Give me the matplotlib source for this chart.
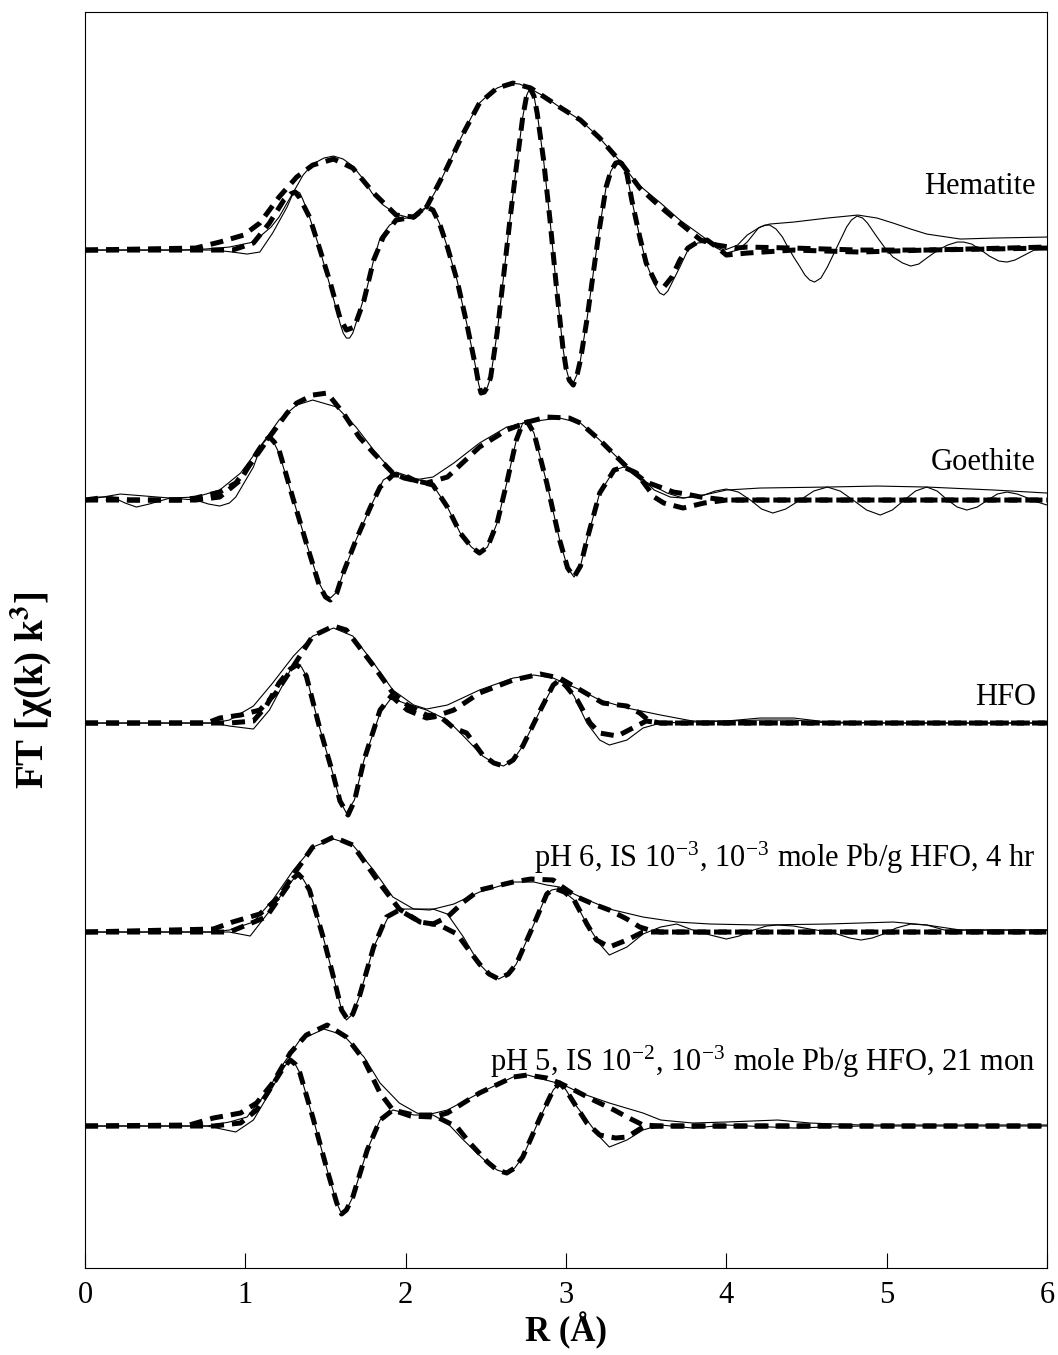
import matplotlib
matplotlib.use("Agg")
import matplotlib.pyplot as plt
import numpy as np

plt.rcParams['font.family'] = ['Liberation Serif', 'DejaVu Serif']
plt.rcParams['mathtext.fontset'] = 'stix'

# curves: (R in Angstrom, FT in arbitrary units above the spectrum baseline)
# Hematite
hem_mag = [(0, 0), (0.6, 0), (0.75, 1), (0.9, 3), (1.05, 8), (1.16, 23), (1.21, 33), (1.26, 47), (1.30, 58),
           (1.36, 75), (1.42, 86), (1.49, 92), (1.55, 94), (1.61, 91), (1.67, 84), (1.73, 72), (1.79, 57),
           (1.86, 45), (1.94, 36), (2.03, 32), (2.08, 35), (2.13, 43), (2.19, 60), (2.25, 80), (2.30, 98),
           (2.36, 117), (2.41, 133), (2.46, 147), (2.52, 156), (2.57, 162), (2.65, 167), (2.71, 166),
           (2.77, 162), (2.86, 154), (2.96, 143), (3.09, 130), (3.21, 112), (3.33, 90), (3.44, 67),
           (3.59, 47), (3.71, 30), (3.84, 15), (3.94, 3), (3.99, 0), (4.07, 5), (4.13, 15), (4.21, 23),
           (4.27, 26), (4.42, 28), (4.63, 32), (4.82, 35), (4.94, 32), (5.04, 27), (5.15, 21), (5.25, 16),
           (5.46, 11), (5.67, 12), (6.0, 13)]
hem_im = [(0, 0), (0.8, 0), (0.92, -2), (1.01, -4), (1.09, -2), (1.17, 17), (1.26, 43), (1.29, 54),
          (1.32, 59), (1.34, 57), (1.36, 50), (1.40, 33), (1.46, 3), (1.53, -37), (1.59, -73),
          (1.61, -83), (1.63, -88), (1.65, -88), (1.67, -83), (1.71, -63), (1.76, -37), (1.80, -10),
          (1.84, 12), (1.90, 25), (1.96, 31), (2.05, 33), (2.10, 40), (2.13, 43), (2.17, 40), (2.21, 27),
          (2.26, 3), (2.32, -30), (2.38, -73), (2.44, -120), (2.455, -134), (2.47, -143), (2.49, -142),
          (2.51, -137), (2.53, -127), (2.57, -83), (2.61, -27), (2.65, 30), (2.69, 83), (2.73, 133),
          (2.755, 155), (2.775, 162), (2.80, 154), (2.82, 137), (2.86, 90), (2.90, 30), (2.94, -37),
          (2.98, -97), (3.00, -118), (3.02, -130), (3.045, -133), (3.07, -124), (3.09, -110),
          (3.13, -70), (3.17, -23), (3.21, 23), (3.25, 63), (3.28, 79), (3.31, 87), (3.335, 88),
          (3.36, 84), (3.38, 76), (3.41, 50), (3.46, 13), (3.50, -13), (3.56, -37), (3.585, -43),
          (3.61, -45), (3.635, -41), (3.66, -33), (3.71, -17), (3.76, 0), (3.82, 7), (3.88, 8),
          (3.94, 2), (4.00, -3), (4.07, 0), (4.13, 8), (4.17, 16), (4.20, 22), (4.24, 25), (4.27, 25),
          (4.31, 21), (4.35, 13), (4.38, 4), (4.42, -7), (4.46, -17), (4.49, -25), (4.52, -30),
          (4.55, -32), (4.59, -28), (4.63, -17), (4.66, -7), (4.69, 3), (4.72, 13), (4.75, 23),
          (4.78, 30), (4.815, 34), (4.85, 32), (4.88, 27), (4.94, 13), (4.99, 2), (5.04, -7),
          (5.10, -13), (5.15, -16), (5.20, -14), (5.25, -8), (5.32, 0), (5.38, 5), (5.44, 8), (5.48, 8),
          (5.53, 6), (5.58, 1), (5.64, -6), (5.70, -11), (5.75, -12), (5.80, -10), (5.86, -5),
          (5.92, 0), (6.0, 3)]
hem_mag_fit = [(0, 0), (0.69, 2), (0.84, 8), (0.99, 15), (1.09, 27), (1.21, 53), (1.32, 73), (1.42, 85),
               (1.55, 91), (1.67, 82), (1.80, 57), (1.94, 35), (2.05, 33), (2.13, 43), (2.25, 80),
               (2.36, 117), (2.46, 147), (2.57, 162), (2.67, 167), (2.78, 162), (2.96, 143), (3.09, 130),
               (3.21, 112), (3.33, 90), (3.46, 62), (3.59, 43), (3.71, 27), (3.84, 10), (3.94, 5),
               (4.06, 2), (4.13, 3), (4.42, 2), (4.83, 0), (5.25, 0), (6.0, 3)]
hem_im_fit = [(0, 0), (0.92, 0), (1.05, 7), (1.15, 27), (1.24, 50), (1.28, 56), (1.31, 58), (1.34, 52),
              (1.40, 33), (1.46, 3), (1.53, -33), (1.59, -68), (1.63, -80), (1.68, -77), (1.74, -50),
              (1.80, -10), (1.86, 13), (1.94, 30), (2.05, 33), (2.10, 40), (2.13, 43), (2.17, 40),
              (2.21, 27), (2.26, 3), (2.32, -30), (2.38, -73), (2.44, -120), (2.455, -134), (2.47, -143),
              (2.49, -142), (2.51, -137), (2.53, -127), (2.57, -83), (2.61, -27), (2.65, 30), (2.69, 83),
              (2.73, 133), (2.755, 155), (2.775, 162), (2.80, 154), (2.82, 137), (2.86, 90), (2.90, 30),
              (2.94, -37), (2.98, -97), (3.00, -118), (3.02, -130), (3.045, -135), (3.07, -124),
              (3.09, -110), (3.13, -70), (3.17, -23), (3.21, 23), (3.25, 63), (3.28, 79), (3.31, 87),
              (3.335, 88), (3.36, 84), (3.38, 76), (3.41, 50), (3.46, 13), (3.50, -13), (3.56, -33),
              (3.61, -37), (3.66, -27), (3.71, -10), (3.76, 2), (3.82, 8), (3.88, 10), (3.94, 3),
              (4.0, -5), (4.13, -3), (4.42, 0), (4.83, -2), (5.25, 0), (6.0, 2)]

# Goethite
goe_mag = [(0, 0), (0.22, 6), (0.53, 2), (0.69, 3), (0.84, 10), (0.97, 27), (1.09, 53), (1.21, 80),
           (1.32, 95), (1.42, 100), (1.57, 93), (1.69, 73), (1.80, 50), (1.92, 28), (2.05, 20), (2.17, 23),
           (2.30, 37), (2.46, 57), (2.63, 73), (2.76, 78), (2.96, 82), (3.09, 77), (3.21, 60), (3.38, 33),
           (3.50, 18), (3.63, 7), (3.73, 2), (3.86, 5), (4.0, 10), (4.21, 12), (4.63, 13), (4.94, 14),
           (5.25, 13), (5.67, 10), (6.0, 7)]
goe_im = [(0, 0), (0.08, 3), (0.17, 3), (0.25, -3), (0.32, -7), (0.40, -4), (0.53, 2), (0.69, 0),
          (0.77, -4), (0.84, -6), (0.90, -3), (0.94, 3), (1.05, 33), (1.10, 55), (1.14, 62), (1.17, 60),
          (1.21, 47), (1.30, 0), (1.38, -43), (1.46, -83), (1.50, -95), (1.53, -98), (1.57, -92),
          (1.61, -73), (1.69, -40), (1.78, -7), (1.86, 20), (1.94, 28), (2.05, 22), (2.17, 15),
          (2.26, -7), (2.34, -33), (2.41, -47), (2.46, -53), (2.51, -47), (2.57, -23), (2.63, 17),
          (2.69, 60), (2.73, 77), (2.76, 78), (2.80, 67), (2.88, 17), (2.96, -40), (3.01, -68),
          (3.05, -77), (3.09, -66), (3.13, -40), (3.21, 7), (3.30, 30), (3.36, 33), (3.44, 27),
          (3.55, 10), (3.65, 3), (3.73, 2), (3.86, 5), (3.93, 9), (4.0, 11), (4.075, 8), (4.15, 0),
          (4.22, -9), (4.29, -13), (4.37, -9), (4.46, 0), (4.545, 9), (4.63, 13), (4.71, 9), (4.79, 0),
          (4.875, -10), (4.96, -15), (5.035, -10), (5.11, 0), (5.18, 9), (5.25, 13), (5.315, 9),
          (5.38, 0), (5.44, -7), (5.50, -10), (5.565, -7), (5.63, 0), (5.69, 6), (5.75, 8), (5.815, 6),
          (5.88, 2), (5.94, -2), (6.0, -5)]
goe_mag_fit = [(0, 0), (0.09, 2), (0.28, 0), (0.59, 0), (0.69, 2), (0.84, 8), (0.94, 17), (1.05, 40),
               (1.15, 63), (1.26, 87), (1.32, 97), (1.42, 105), (1.51, 107), (1.61, 87), (1.71, 63),
               (1.80, 47), (1.92, 27), (1.99, 22), (2.13, 17), (2.26, 23), (2.46, 53), (2.63, 70),
               (2.76, 78), (2.88, 83), (3.02, 82), (3.09, 77), (3.21, 60), (3.38, 33), (3.50, 18),
               (3.67, 8), (3.75, 6), (3.84, 3), (4.0, 0), (6.0, 0)]
goe_im_fit = [(0, 0), (0.69, 0), (0.84, 3), (0.97, 20), (1.07, 47), (1.12, 59), (1.15, 63), (1.18, 58),
              (1.21, 50), (1.30, 0), (1.38, -43), (1.46, -85), (1.50, -97), (1.53, -100), (1.57, -93),
              (1.61, -73), (1.69, -40), (1.78, -7), (1.84, 13), (1.92, 25), (1.99, 25), (2.05, 20),
              (2.17, 15), (2.26, -7), (2.34, -33), (2.41, -47), (2.46, -53), (2.51, -47), (2.57, -23),
              (2.63, 17), (2.69, 60), (2.73, 77), (2.76, 78), (2.80, 67), (2.88, 17), (2.96, -40),
              (3.01, -68), (3.05, -77), (3.09, -66), (3.13, -40), (3.21, 7), (3.30, 30), (3.36, 33),
              (3.44, 27), (3.55, 3), (3.61, -3), (3.73, -8), (3.86, -3), (4.0, 0), (6.0, 0)]

# HFO
hfo_mag = [(0, 0), (0.80, 0), (0.90, 3), (1.05, 17), (1.17, 40), (1.30, 67), (1.42, 87), (1.55, 95),
           (1.67, 87), (1.80, 60), (1.92, 33), (2.05, 18), (2.13, 14), (2.26, 18), (2.46, 33), (2.67, 45),
           (2.80, 48), (2.92, 45), (3.09, 33), (3.21, 23), (3.38, 15), (3.59, 8), (3.79, 2), (4.0, 2),
           (4.21, 5), (4.42, 5), (4.63, 1), (5.04, 0), (6.0, 0)]
hfo_im = [(0, 0), (0.80, 0), (0.90, -3), (1.05, -6), (1.15, 13), (1.24, 40), (1.28, 53), (1.32, 60),
          (1.35, 56), (1.38, 47), (1.46, -3), (1.55, -53), (1.59, -78), (1.63, -90), (1.68, -77),
          (1.74, -37), (1.84, 10), (1.91, 25), (1.99, 20), (2.13, 13), (2.26, 3), (2.36, -13),
          (2.48, -33), (2.55, -40), (2.61, -43), (2.67, -37), (2.73, -23), (2.84, 13), (2.92, 37),
          (2.96, 42), (3.00, 38), (3.05, 27), (3.13, 0), (3.21, -17), (3.27, -22), (3.38, -17),
          (3.48, -5), (3.59, 0), (4.21, 3), (4.42, 3), (4.63, 0), (6.0, 0)]
hfo_mag_fit = [(0, 0), (0.76, 0), (0.84, 5), (0.97, 8), (1.09, 13), (1.19, 30), (1.30, 57), (1.42, 87),
               (1.55, 97), (1.63, 93), (1.80, 57), (1.92, 30), (2.01, 18), (2.13, 8), (2.19, 7),
               (2.30, 13), (2.46, 30), (2.67, 43), (2.84, 49), (2.96, 45), (3.09, 33), (3.23, 20),
               (3.38, 17), (3.46, 10), (3.52, 2), (3.59, 0), (6.0, 0)]
hfo_im_fit = [(0, 0), (0.90, 0), (1.05, 2), (1.13, 17), (1.21, 40), (1.28, 54), (1.32, 58), (1.35, 55),
              (1.38, 47), (1.46, -3), (1.55, -53), (1.59, -78), (1.64, -92), (1.68, -78), (1.74, -37),
              (1.84, 13), (1.91, 27), (2.01, 13), (2.13, 5), (2.21, 7), (2.30, -5), (2.38, -10),
              (2.48, -32), (2.55, -40), (2.61, -43), (2.67, -37), (2.73, -23), (2.84, 13), (2.92, 38),
              (2.96, 43), (3.00, 37), (3.07, 23), (3.15, 0), (3.21, -10), (3.32, -13), (3.44, -3),
              (3.50, 2), (3.59, 0), (6.0, 0)]

# pH 6, IS 1e-3, 1e-3 mole Pb/g HFO, 4 hr
ph6_mag = [(0, 0), (0.80, 0), (0.90, 2), (1.05, 10), (1.17, 32), (1.30, 62), (1.42, 85), (1.55, 93),
           (1.67, 87), (1.80, 62), (1.92, 35), (2.05, 23), (2.15, 22), (2.30, 28), (2.46, 40), (2.67, 50),
           (2.80, 50), (2.88, 47), (2.96, 45), (3.09, 35), (3.27, 23), (3.48, 15), (3.69, 10), (3.90, 8),
           (4.21, 7), (4.63, 8), (5.04, 10), (5.25, 7), (5.46, 2), (6.0, 2)]
ph6_im = [(0, 0), (0.90, 0), (1.03, -4), (1.17, 25), (1.26, 45), (1.30, 53), (1.33, 57), (1.36, 53),
          (1.40, 42), (1.49, -8), (1.57, -58), (1.60, -78), (1.63, -88), (1.67, -82), (1.71, -65),
          (1.80, -15), (1.90, 18), (1.96, 23), (2.05, 23), (2.17, 23), (2.26, 18), (2.36, -5),
          (2.46, -32), (2.52, -42), (2.58, -47), (2.64, -42), (2.69, -32), (2.80, 8), (2.88, 38),
          (2.91, 42), (2.94, 43), (2.99, 40), (3.05, 32), (3.13, 8), (3.21, -12), (3.27, -23),
          (3.38, -15), (3.48, -2), (3.59, 5), (3.69, 8), (3.79, 2), (3.90, -3), (4.0, -7), (4.08, -4),
          (4.17, 2), (4.25, 6), (4.32, 7), (4.42, 6), (4.52, 3), (4.60, 1), (4.69, -2), (4.77, -6),
          (4.84, -8), (4.91, -6), (4.98, -2), (5.06, 4), (5.15, 8), (5.25, 7), (5.36, 2), (6.0, 2)]
ph6_mag_fit = [(0, 0), (0.80, 3), (0.92, 10), (1.09, 18), (1.21, 35), (1.32, 62), (1.42, 85), (1.55, 95),
               (1.67, 87), (1.84, 48), (1.96, 23), (2.09, 10), (2.17, 8), (2.26, 15), (2.36, 30),
               (2.46, 42), (2.67, 50), (2.78, 53), (2.92, 52), (2.96, 47), (3.07, 35), (3.17, 28),
               (3.27, 22), (3.38, 13), (3.46, 5), (3.52, 2), (3.59, 0), (6.0, 0)]
ph6_im_fit = [(0, 0), (0.90, 0), (1.13, 15), (1.26, 45), (1.30, 54), (1.33, 58), (1.36, 53), (1.40, 42),
              (1.49, -8), (1.57, -58), (1.60, -78), (1.64, -88), (1.67, -82), (1.71, -65), (1.80, -15),
              (1.88, 15), (1.96, 22), (2.09, 10), (2.21, 7), (2.32, -2), (2.38, -15), (2.46, -32),
              (2.52, -42), (2.58, -47), (2.64, -42), (2.69, -32), (2.80, 8), (2.88, 38), (2.91, 42),
              (2.94, 43), (2.99, 40), (3.05, 32), (3.13, 8), (3.19, -8), (3.27, -15), (3.38, -8),
              (3.48, 0), (6.0, 0)]

# pH 5, IS 1e-2, 1e-3 mole Pb/g HFO, 21 mon
ph5_mag = [(0, 0), (0.76, 0), (0.90, 4), (1.01, 9), (1.13, 33), (1.24, 63), (1.34, 86), (1.49, 97),
           (1.61, 91), (1.74, 69), (1.84, 43), (1.96, 23), (2.07, 13), (2.13, 11), (2.26, 16), (2.46, 33),
           (2.67, 49), (2.76, 51), (2.92, 44), (2.96, 43), (3.09, 33), (3.27, 23), (3.48, 13), (3.59, 6),
           (3.79, 3), (4.0, 4), (4.32, 6), (4.52, 3), (4.84, 1), (6.0, 1)]
ph5_im = [(0, 0), (0.76, 0), (0.94, -6), (1.05, 6), (1.15, 33), (1.24, 59), (1.28, 66), (1.31, 62),
          (1.34, 53), (1.42, 9), (1.51, -44), (1.57, -77), (1.60, -88), (1.63, -84), (1.67, -71),
          (1.76, -24), (1.84, 6), (1.92, 16), (2.05, 11), (2.17, 11), (2.26, 3), (2.36, -14),
          (2.51, -37), (2.57, -44), (2.63, -47), (2.68, -42), (2.73, -31), (2.84, 9), (2.92, 36),
          (2.96, 43), (3.00, 36), (3.05, 23), (3.13, 6), (3.21, -11), (3.27, -21), (3.38, -14),
          (3.48, -4), (3.59, 1), (3.79, -2), (4.0, 1), (4.42, -2), (4.84, 0), (6.0, 0)]
ph5_mag_fit = [(0, 0), (0.65, 1), (0.80, 8), (0.97, 13), (1.07, 23), (1.17, 43), (1.28, 73), (1.38, 91),
               (1.51, 101), (1.63, 89), (1.74, 66), (1.84, 33), (1.92, 16), (2.03, 10), (2.17, 9),
               (2.26, 13), (2.46, 33), (2.67, 49), (2.76, 51), (2.88, 48), (2.96, 43), (3.05, 36),
               (3.17, 26), (3.30, 16), (3.38, 9), (3.48, 1), (3.59, 0), (6.0, 0)]
ph5_im_fit = [(0, 0), (0.80, 0), (0.97, 3), (1.07, 16), (1.15, 36), (1.24, 59), (1.28, 66), (1.31, 62),
              (1.34, 53), (1.42, 9), (1.51, -44), (1.57, -77), (1.60, -88), (1.63, -84), (1.67, -71),
              (1.76, -24), (1.84, 6), (1.92, 16), (2.05, 11), (2.17, 11), (2.32, -1), (2.40, -17),
              (2.51, -36), (2.57, -44), (2.63, -47), (2.68, -42), (2.73, -31), (2.84, 9), (2.92, 36),
              (2.96, 43), (3.00, 36), (3.05, 23), (3.13, 3), (3.21, -9), (3.31, -12), (3.38, -11),
              (3.48, -1), (3.59, 0), (6.0, 0)]

names = ['Hematite', 'Goethite', 'HFO',
         r'pH 6, IS 10$^{\mathregular{-3}}$, 10$^{\mathregular{-3}}$ mole Pb/g HFO, 4 hr',
         r'pH 5, IS 10$^{\mathregular{-2}}$, 10$^{\mathregular{-3}}$ mole Pb/g HFO, 21 mon']
offsets = [1018, 768, 545, 336, 142]
label_y = [64, 38, 26, 74, 64]
spectra = [(hem_mag, hem_im, hem_mag_fit, hem_im_fit),
           (goe_mag, goe_im, goe_mag_fit, goe_im_fit),
           (hfo_mag, hfo_im, hfo_mag_fit, hfo_im_fit),
           (ph6_mag, ph6_im, ph6_mag_fit, ph6_im_fit),
           (ph5_mag, ph5_im, ph5_mag_fit, ph5_im_fit)]

fig = plt.figure(figsize=(10.58, 13.55), dpi=100)
ax = fig.add_axes([0.0804, 0.0642, 0.9092, 0.9269])

for (mag, im, mag_fit, im_fit), off, name, ly in zip(spectra, offsets, names, label_y):
    for curve in (mag, im):
        r, v = np.array(curve).T
        ax.plot(r, v + off, color='black', lw=0.8, zorder=2, solid_joinstyle='round')
    for curve in (mag_fit, im_fit):
        r, v = np.array(curve).T
        ax.plot(r, v + off, color='black', lw=3.6, ls=(0, (2.6, 1.6)), zorder=3)
    ax.text(5.93, off + ly, name, ha='right', va='center', fontsize=22)

ax.set_xlim(0, 6)
ax.set_ylim(0, 1256)
ax.set_xticks(range(7))
ax.set_yticks([])
ax.tick_params(axis='x', direction='in', length=11, width=0.8, labelsize=22, pad=9)
for s in ax.spines.values():
    s.set_linewidth(0.8)
ax.set_xlabel('R (Å)', fontsize=25, fontweight='bold', labelpad=2)
ax.set_ylabel('FT [χ(k) k$^{\\mathbf{3}}$]', fontsize=28, fontweight='bold')
ax.yaxis.set_label_coords(-0.031, 0.46)

fig.savefig('out.png', dpi=100)
